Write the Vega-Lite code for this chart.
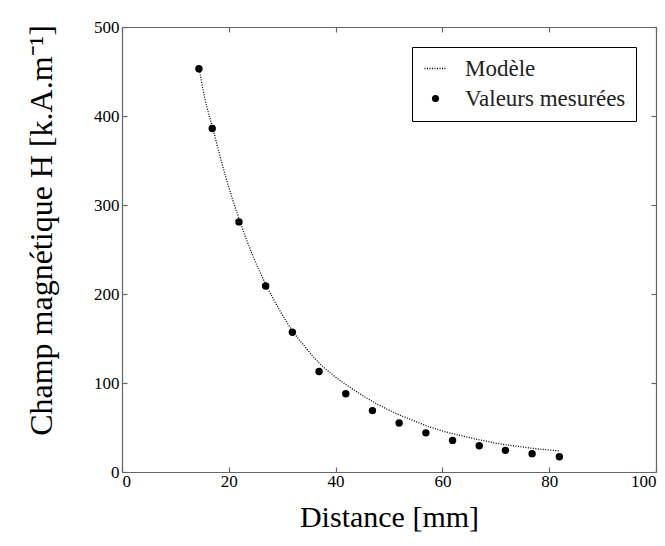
{
  "$schema": "https://vega.github.io/schema/vega-lite/v6.json",
  "width": 534,
  "height": 445,
  "autosize": "none",
  "padding": {"left": 122, "top": 27, "right": 9, "bottom": 74},
  "background": "white",
  "config": {
    "font": "Liberation Serif",
    "view": {"stroke": null},
    "style": {"guide-label": {"font": "Liberation Serif"}, "guide-title": {"font": "Liberation Serif"}},
    "legend": {"labelFont": "Liberation Serif", "labelFontSize": 23, "labelLimit": 300},
    "axis": {"grid": false, "domainColor": "#666", "tickColor": "#666", "labelColor": "black", "titleColor": "black", "labelFont": "Liberation Serif", "titleFont": "Liberation Serif", "labelFontSize": 17, "titleFontSize": 30, "titleFontWeight": "normal", "tickSize": -5, "domainWidth": 1.2, "tickWidth": 1.2}
  },
  "datasets": {
    "model": [
      {"x": 14.4, "H": 455, "series": "Modèle"},
      {"x": 15.5, "H": 420, "series": "Modèle"},
      {"x": 17, "H": 386, "series": "Modèle"},
      {"x": 19.5, "H": 330, "series": "Modèle"},
      {"x": 22, "H": 283, "series": "Modèle"},
      {"x": 24.5, "H": 243, "series": "Modèle"},
      {"x": 27, "H": 210, "series": "Modèle"},
      {"x": 29.5, "H": 182, "series": "Modèle"},
      {"x": 32, "H": 158, "series": "Modèle"},
      {"x": 34.5, "H": 139, "series": "Modèle"},
      {"x": 37, "H": 122, "series": "Modèle"},
      {"x": 39.5, "H": 109, "series": "Modèle"},
      {"x": 42, "H": 98, "series": "Modèle"},
      {"x": 44.5, "H": 88, "series": "Modèle"},
      {"x": 47, "H": 79, "series": "Modèle"},
      {"x": 49.5, "H": 71, "series": "Modèle"},
      {"x": 52, "H": 64, "series": "Modèle"},
      {"x": 54.5, "H": 58, "series": "Modèle"},
      {"x": 57, "H": 52, "series": "Modèle"},
      {"x": 59.5, "H": 47, "series": "Modèle"},
      {"x": 62, "H": 43, "series": "Modèle"},
      {"x": 64.5, "H": 39.5, "series": "Modèle"},
      {"x": 67, "H": 36, "series": "Modèle"},
      {"x": 69.5, "H": 33, "series": "Modèle"},
      {"x": 72, "H": 30.5, "series": "Modèle"},
      {"x": 74.5, "H": 28.5, "series": "Modèle"},
      {"x": 77, "H": 26.5, "series": "Modèle"},
      {"x": 79.5, "H": 25, "series": "Modèle"},
      {"x": 82, "H": 23.5, "series": "Modèle"}
    ],
    "mesures": [
      {"x": 14.4, "H": 453, "series": "Valeurs mesurées"},
      {"x": 16.9, "H": 386, "series": "Valeurs mesurées"},
      {"x": 21.9, "H": 281, "series": "Valeurs mesurées"},
      {"x": 26.9, "H": 209, "series": "Valeurs mesurées"},
      {"x": 31.9, "H": 157, "series": "Valeurs mesurées"},
      {"x": 36.9, "H": 113, "series": "Valeurs mesurées"},
      {"x": 41.9, "H": 88, "series": "Valeurs mesurées"},
      {"x": 46.9, "H": 69, "series": "Valeurs mesurées"},
      {"x": 51.9, "H": 55, "series": "Valeurs mesurées"},
      {"x": 56.9, "H": 44, "series": "Valeurs mesurées"},
      {"x": 61.9, "H": 35.5, "series": "Valeurs mesurées"},
      {"x": 66.9, "H": 29.5, "series": "Valeurs mesurées"},
      {"x": 71.8, "H": 24.3, "series": "Valeurs mesurées"},
      {"x": 76.8, "H": 20.6, "series": "Valeurs mesurées"},
      {"x": 81.9, "H": 17.2, "series": "Valeurs mesurées"}
    ]
  },
  "layer": [
    {
      "data": {"name": "model"},
      "mark": {"type": "line", "strokeDash": [1, 1.5], "strokeWidth": 1.3, "interpolate": "monotone"},
      "encoding": {
        "x": {"field": "x", "type": "quantitative", "scale": {"domain": [0, 100], "nice": false}, "axis": {"orient": "bottom", "values": [0, 20, 40, 60, 80, 100], "title": "Distance [mm]", "labelPadding": 6, "titlePadding": 13}},
        "y": {"field": "H", "type": "quantitative", "scale": {"domain": [0, 500], "nice": false}, "axis": {"orient": "left", "values": [0, 100, 200, 300, 400, 500], "title": "Champ magnétique H [k.A.m⁻¹]", "titleFontSize": 32, "labelPadding": 8, "titlePadding": 35, "titleY": 203}},
        "color": {"field": "series", "type": "nominal", "scale": {"domain": ["Modèle", "Valeurs mesurées"], "range": ["black", "black"]},
          "legend": {"title": null, "orient": "top-right", "offset": 20, "fillColor": "white", "strokeColor": "black", "padding": 10, "symbolOffset": 2, "labelFont": "Liberation Serif", "labelFontSize": 23, "labelLimit": 300, "labelColor": "#222", "rowPadding": 6, "labelOffset": 18,
            "encode": {
              "labels": {"update": {"font": {"value": "Liberation Serif"}, "fontSize": {"value": 23}}},
              "symbols": {"update": {
              "shape": {"signal": "datum.value === 'Modèle' ? 'stroke' : 'circle'"},
              "size": {"signal": "datum.value === 'Modèle' ? 484 : 50"},
              "fill": {"signal": "datum.value === 'Modèle' ? 'transparent' : 'black'"},
              "stroke": {"value": "black"},
              "strokeWidth": {"signal": "datum.value === 'Modèle' ? 1.3 : 0"},
              "strokeDash": {"signal": "datum.value === 'Modèle' ? [1, 1.5] : [1, 0]"},
              "opacity": {"value": 1}
            }}}}}
      }
    },
    {
      "data": {"name": "mesures"},
      "mark": {"type": "point", "filled": true, "shape": "circle", "size": 55, "opacity": 1},
      "encoding": {
        "x": {"field": "x", "type": "quantitative", "axis": {"orient": "top", "values": [0, 20, 40, 60, 80, 100], "labels": false, "title": null}},
        "y": {"field": "H", "type": "quantitative", "axis": {"orient": "right", "values": [0, 100, 200, 300, 400, 500], "labels": false, "title": null}},
        "color": {"field": "series", "type": "nominal"}
      }
    }
  ],
  "resolve": {"axis": {"x": "independent", "y": "independent"}}
}
